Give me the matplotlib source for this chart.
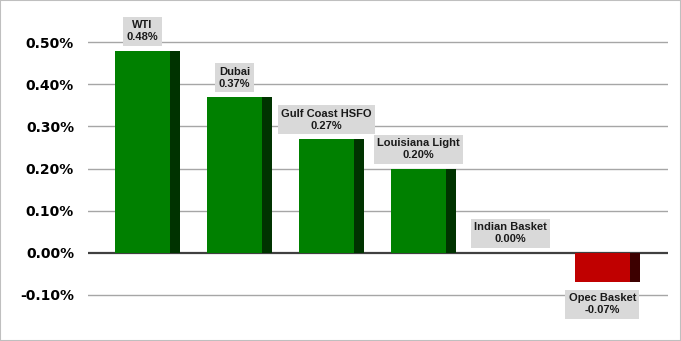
import matplotlib.pyplot as plt
from matplotlib.patches import Rectangle

categorias = ['WTI', 'Dubai', 'Gulf Coast HSFO', 'Louisiana Light', 'Indian Basket', 'Opec Basket']
valores = [0.48, 0.37, 0.27, 0.20, 0.00, -0.07]
ticks = [-0.10, 0.00, 0.10, 0.20, 0.30, 0.40, 0.50]

cor_frente = {True: '#008000', False: '#c00000'}
cor_lado = {True: '#003300', False: '#3d0000'}

fig = plt.figure(figsize=(6.81, 3.41), dpi=100)
ax = fig.add_axes([88/681, 25/341, 580/681, 295/341])

largura = 0.71
frente = 0.60
xs = list(range(len(categorias)))

for x, v in zip(xs, valores):
    pos = v >= 0
    if v == 0:
        continue
    ax.bar(x - largura/2, v, width=largura, align='edge', color=cor_lado[pos], zorder=3)
    ax.bar(x - largura/2, v, width=frente, align='edge', color=cor_frente[pos], zorder=4)

for x, v, c in zip(xs, valores, categorias):
    cx = x - largura/2 + frente/2
    txt = '%s\n%.2f%%' % (c, v)
    dy, va = (6, 'bottom') if v >= 0 else (-8, 'top')
    ax.annotate(txt, (cx, v), xytext=(0, dy), textcoords='offset points',
                ha='center', va=va, fontsize=8, fontweight='bold',
                family='Liberation Sans', color='#1a1a1a',
                linespacing=1.25, zorder=5,
                bbox=dict(boxstyle='square,pad=0.3', fc='#d9d9d9', ec='none'))

ax.set_xlim(-0.647, 5.658)
ax.set_ylim(-0.15, 0.55)
ax.set_yticks(ticks)
ax.set_yticklabels(['%.2f%%' % t for t in ticks], fontsize=10, fontweight='bold')
ax.tick_params(axis='y', length=0, pad=10)
ax.set_xticks([])
for t in ticks:
    if t == 0:
        ax.axhline(t, color='#404040', lw=1.6, zorder=2)
    else:
        ax.axhline(t, color='#a6a6a6', lw=1.0, zorder=1)
for s in ax.spines.values():
    s.set_visible(False)

fig.patches.append(Rectangle((0, 0), 1, 1, transform=fig.transFigure,
                             fill=False, ec='#bfbfbf', lw=1.5))

plt.savefig('out.png', dpi=100)
